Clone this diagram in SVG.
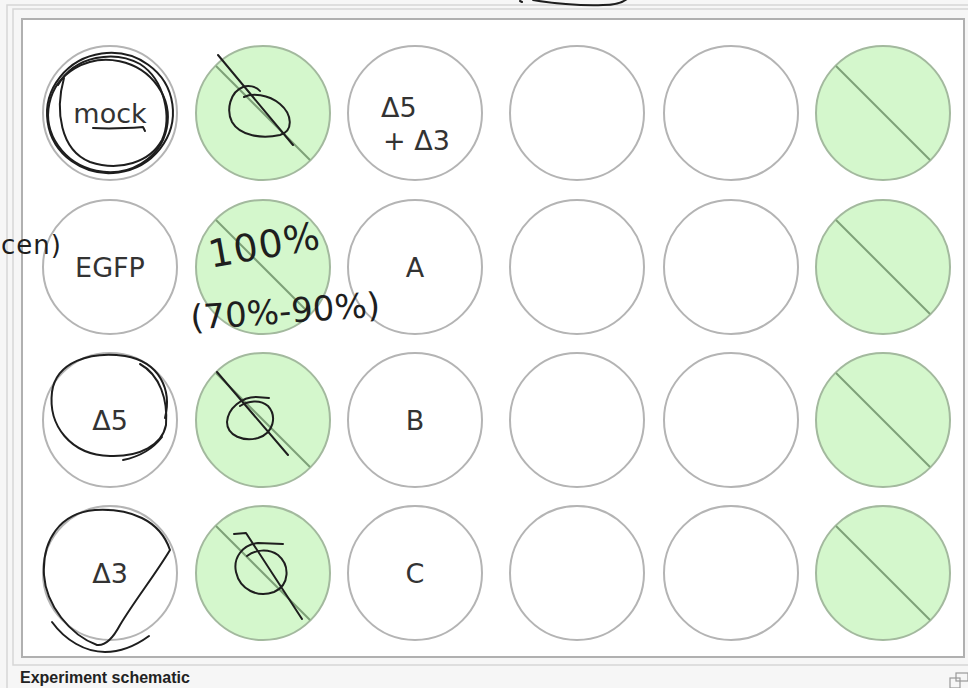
<svg xmlns="http://www.w3.org/2000/svg" width="968" height="688" viewBox="0 0 968 688">
<style>
.well{fill:#ffffff;stroke:#b4b4b4;stroke-width:2}
.gwell{fill:#d4f7cc;stroke:#a3b99e;stroke-width:2}
.diag{stroke:#7ea178;stroke-width:2;fill:none}
.lbl{font-family:"DejaVu Sans",sans-serif;font-size:27px;fill:#333333}
.ink{fill:none;stroke:#1e1e1e;stroke-width:2;stroke-linecap:round;stroke-linejoin:round}
.hw{font-family:"DejaVu Sans",sans-serif;font-weight:normal;fill:#1e1e1e}
.frame{fill:none;stroke:#d6d6d6;stroke-width:1.5}
</style>
<rect x="0" y="0" width="968" height="688" fill="#f6f6f6"/>
<rect class="frame" x="7" y="5" width="975" height="700"/>
<rect class="frame" x="13" y="9" width="965" height="656"/>
<rect x="22" y="19" width="942" height="638" fill="#ffffff" stroke="#b0b0b0" stroke-width="2"/>

<g id="wells">
<g id="r1c1"><circle class="well" cx="110" cy="113" r="67"/><text class="lbl" x="110" y="123" text-anchor="middle">mock</text></g>
<g id="r1c2"><circle class="gwell" cx="263" cy="113" r="67"/><line class="diag" x1="216" y1="66" x2="310" y2="160"/></g>
<g id="r1c3"><circle class="well" cx="415" cy="113" r="67"/><text class="lbl" x="381" y="117">Δ5</text><text class="lbl" x="383" y="150">+ Δ3</text></g>
<g id="r1c4"><circle class="well" cx="577" cy="113" r="67"/></g>
<g id="r1c5"><circle class="well" cx="731" cy="113" r="67"/></g>
<g id="r1c6"><circle class="gwell" cx="883" cy="113" r="67"/><line class="diag" x1="836" y1="66" x2="930" y2="160"/></g>

<g id="r2c1"><circle class="well" cx="110" cy="267" r="67"/><text class="lbl" x="110" y="277" text-anchor="middle">EGFP</text></g>
<g id="r2c2"><circle class="gwell" cx="263" cy="267" r="67"/><line class="diag" x1="216" y1="220" x2="310" y2="314"/></g>
<g id="r2c3"><circle class="well" cx="415" cy="267" r="67"/><text class="lbl" x="415" y="277" text-anchor="middle">A</text></g>
<g id="r2c4"><circle class="well" cx="577" cy="267" r="67"/></g>
<g id="r2c5"><circle class="well" cx="731" cy="267" r="67"/></g>
<g id="r2c6"><circle class="gwell" cx="883" cy="267" r="67"/><line class="diag" x1="836" y1="220" x2="930" y2="314"/></g>

<g id="r3c1"><circle class="well" cx="110" cy="420" r="67"/><text class="lbl" x="110" y="430" text-anchor="middle">Δ5</text></g>
<g id="r3c2"><circle class="gwell" cx="263" cy="420" r="67"/><line class="diag" x1="216" y1="373" x2="310" y2="467"/></g>
<g id="r3c3"><circle class="well" cx="415" cy="420" r="67"/><text class="lbl" x="415" y="430" text-anchor="middle">B</text></g>
<g id="r3c4"><circle class="well" cx="577" cy="420" r="67"/></g>
<g id="r3c5"><circle class="well" cx="731" cy="420" r="67"/></g>
<g id="r3c6"><circle class="gwell" cx="883" cy="420" r="67"/><line class="diag" x1="836" y1="373" x2="930" y2="467"/></g>

<g id="r4c1"><circle class="well" cx="110" cy="573" r="67"/><text class="lbl" x="110" y="583" text-anchor="middle">Δ3</text></g>
<g id="r4c2"><circle class="gwell" cx="263" cy="573" r="67"/><line class="diag" x1="216" y1="526" x2="310" y2="620"/></g>
<g id="r4c3"><circle class="well" cx="415" cy="573" r="67"/><text class="lbl" x="415" y="583" text-anchor="middle">C</text></g>
<g id="r4c4"><circle class="well" cx="577" cy="573" r="67"/></g>
<g id="r4c5"><circle class="well" cx="731" cy="573" r="67"/></g>
<g id="r4c6"><circle class="gwell" cx="883" cy="573" r="67"/><line class="diag" x1="836" y1="526" x2="930" y2="620"/></g>
</g>

<g id="annotations">
<ellipse class="ink" cx="110" cy="113" rx="63" ry="60" transform="rotate(-8 110 113)"/>
<ellipse class="ink" cx="108" cy="116" rx="60" ry="56" transform="rotate(12 108 116)"/>
<path class="ink" d="M 64 78 C 55 110, 60 150, 90 162 C 120 172, 150 162, 162 140 C 172 118, 165 80, 140 64 C 115 50, 75 55, 58 85"/>
<path class="ink" d="M 93 128 C 110 129, 130 128, 143 127 L 145 131"/>
<path class="ink" d="M 218 55 L 293 145"/>
<path class="ink" d="M 260 91 C 256 86, 248 85, 243 87 C 230 92, 226 110, 232 122 C 240 136, 262 139, 280 135 C 294 131, 292 114, 280 104 C 268 94, 252 93, 244 97"/>
<path class="ink" d="M 165 418 C 172 390, 160 362, 125 356 C 90 351, 56 362, 52 392 C 48 425, 70 455, 110 456 C 140 457, 162 445, 166 425 C 168 400, 160 375, 140 364"/>
<path class="ink" d="M 162 437 C 152 450, 138 457, 123 460"/>
<path class="ink" d="M 217 372 L 288 455"/>
<path class="ink" d="M 269 398 L 256 397 C 242 397, 228 408, 227 422 C 227 436, 244 442, 258 438 C 274 433, 277 416, 268 406 C 260 399, 248 401, 240 406"/>
<path class="ink" d="M 170 550 C 160 520, 130 508, 95 510 C 60 513, 42 540, 44 575 C 46 605, 70 635, 97 645 C 105 646, 112 640, 120 625 C 135 600, 155 575, 170 550"/>
<path class="ink" d="M 52 622 C 65 640, 85 652, 105 652 C 122 652, 138 644, 149 636"/>
<path class="ink" d="M 234 534 L 246 533 L 302 619"/>
<path class="ink" d="M 283 544 L 258 543 C 242 545, 233 558, 236 572 C 240 590, 258 598, 274 592 C 290 585, 290 565, 278 555 C 268 548, 255 550, 247 556"/>
<text class="hw" font-size="38" x="208" y="258" textLength="112" transform="rotate(-10 265 245)">100%</text>
<text class="hw" font-size="34" x="190" y="323" textLength="190" transform="rotate(-4 285 310)">(70%-90%)</text>
<text class="hw" font-size="26" x="1" y="254" textLength="60">cen)</text>
<path class="ink" d="M 520 1 L 522 2 M 533 0 C 550 3, 580 6, 603 5 C 615 5, 622 3, 627 -1"/>
</g>

<text x="20" y="683" font-family="Liberation Sans, Arial, sans-serif" font-size="16" font-weight="bold" fill="#222">Experiment schematic</text>
<g id="icon" fill="none" stroke="#999" stroke-width="1.2">
<rect x="956" y="673" width="12" height="8"/>
<rect x="950" y="678" width="10" height="10"/>
</g>
</svg>
